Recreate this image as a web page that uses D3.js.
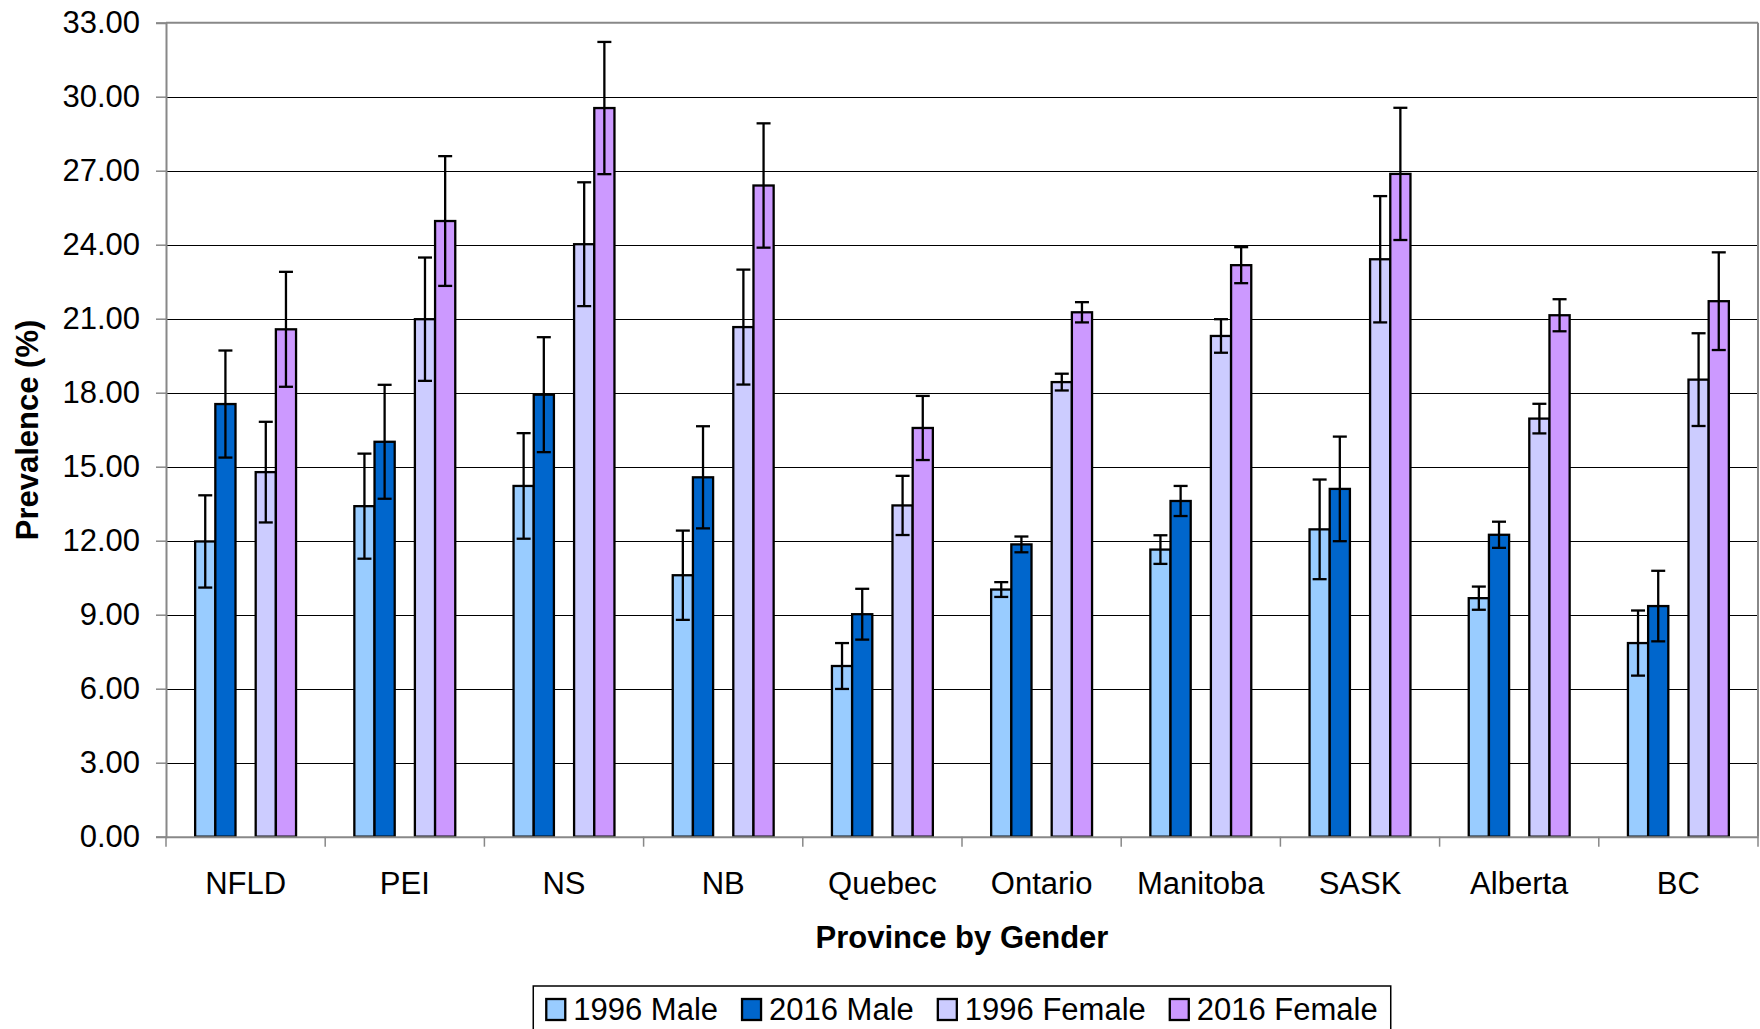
<!DOCTYPE html>
<html>
<head>
<meta charset="utf-8">
<script src="https://cdn.jsdelivr.net/npm/d3@7"></script>
<style>
  body { margin: 0; background: #fff; }
  text { font-family: "Liberation Sans", Arial, sans-serif; fill: #000; }
</style>
</head>
<body>
<svg id="chart" width="1760" height="1029"></svg>
<script>
// Categories and series
const provinces = ["NFLD", "PEI", "NS", "NB", "Quebec", "Ontario", "Manitoba", "SASK", "Alberta", "BC"];
const seriesNames = ["1996 Male", "2016 Male", "1996 Female", "2016 Female"];
const seriesColors = ["#99CCFF", "#0066CC", "#CCCCFF", "#CC99FF"];

const male1996 = [11.97, 13.40, 14.22, 10.60, 6.92, 10.02, 11.64, 12.46, 9.67, 7.85];
const male1996Err = [1.87, 2.13, 2.14, 1.81, 0.93, 0.30, 0.58, 2.02, 0.47, 1.32];
const male2016 = [17.54, 16.01, 17.92, 14.57, 9.02, 11.85, 13.61, 14.10, 12.24, 9.35];
const male2016Err = [2.17, 2.31, 2.33, 2.07, 1.03, 0.32, 0.61, 2.12, 0.53, 1.43];
const female1996 = [14.78, 20.98, 24.02, 20.66, 13.43, 18.43, 20.30, 23.41, 16.95, 18.53];
const female1996Err = [2.04, 2.50, 2.51, 2.33, 1.20, 0.34, 0.68, 2.56, 0.60, 1.88];
const female2016 = [20.57, 24.96, 29.54, 26.40, 16.57, 21.26, 23.17, 26.87, 21.14, 21.71];
const female2016Err = [2.33, 2.63, 2.68, 2.52, 1.30, 0.41, 0.73, 2.68, 0.65, 1.98];

const yTicks = [0, 3, 6, 9, 12, 15, 18, 21, 24, 27, 30, 33];

// Build rows for drawing
const values = [male1996, male2016, female1996, female2016];
const errors = [male1996Err, male2016Err, female1996Err, female2016Err];
const rows = [];
provinces.forEach((p, i) => {
    seriesNames.forEach((s, j) => {
        rows.push({province: p, series: s, value: values[j][i], err: errors[j][i], color: seriesColors[j]});
    });
});

// Plot area
const plotLeft = 166, plotRight = 1758, plotTop = 22.7, plotBottom = 836.7;
const svg = d3.select("#chart");

const x0 = d3.scaleBand().domain(provinces).range([plotLeft, plotRight]).padding(0);
// five slots per province, the middle one stays empty
const slots = ["1996 Male", "2016 Male", "gap", "1996 Female", "2016 Female"];
const x1 = d3.scaleBand().domain(slots).range([0, x0.bandwidth()]).paddingInner(0).paddingOuter(1.444);
const y = d3.scaleLinear().domain([0, 33]).range([plotBottom, plotTop]);

// Gridlines
svg.append("g")
    .selectAll("line")
    .data(yTicks.filter(d => d > 0 && d < 33))
    .enter().append("line")
    .attr("x1", plotLeft).attr("x2", plotRight)
    .attr("y1", d => Math.round(y(d)) + 0.5).attr("y2", d => Math.round(y(d)) + 0.5)
    .attr("stroke", "#000").attr("stroke-width", 1.2);

// plot border top / right
svg.append("line").attr("x1", plotLeft).attr("x2", plotRight).attr("y1", y(33)).attr("y2", y(33))
    .attr("stroke", "#888").attr("stroke-width", 2);
svg.append("line").attr("x1", plotRight).attr("x2", plotRight).attr("y1", plotTop).attr("y2", plotBottom)
    .attr("stroke", "#888").attr("stroke-width", 2);

// Y axis
const yAxis = svg.append("g")
    .attr("transform", "translate(" + plotLeft + ",0)")
    .call(d3.axisLeft(y).tickValues(yTicks).tickFormat(d3.format(".2f")).tickSizeOuter(0).tickSize(10).tickPadding(16));
yAxis.select(".domain").attr("stroke", "#888").attr("stroke-width", 2);
yAxis.selectAll(".tick line").attr("stroke", "#888").attr("stroke-width", 1.5);
yAxis.selectAll(".tick text").attr("font-size", 31).attr("fill", "#000")
    .style("font-family", "'Liberation Sans', Arial, sans-serif");

// Bars
const groups = svg.append("g").selectAll("g")
    .data(provinces)
    .enter().append("g")
    .attr("transform", d => "translate(" + x0(d) + ",0)");

groups.selectAll("rect")
    .data(p => rows.filter(r => r.province === p))
    .enter().append("rect")
    .attr("x", d => x1(d.series))
    .attr("y", d => y(d.value))
    .attr("width", x1.bandwidth())
    .attr("height", d => y(0) - y(d.value))
    .attr("fill", d => d.color)
    .attr("stroke", "#000")
    .attr("stroke-width", 2.3);

// Error bars
const capHalf = 7;
const eb = groups.selectAll("g.err")
    .data(p => rows.filter(r => r.province === p))
    .enter().append("g").attr("class", "err")
    .attr("stroke", "#000").attr("stroke-width", 2.3);
eb.append("line")
    .attr("x1", d => x1(d.series) + x1.bandwidth() / 2)
    .attr("x2", d => x1(d.series) + x1.bandwidth() / 2)
    .attr("y1", d => y(d.value + d.err))
    .attr("y2", d => y(d.value - d.err));
eb.append("line")
    .attr("x1", d => x1(d.series) + x1.bandwidth() / 2 - capHalf)
    .attr("x2", d => x1(d.series) + x1.bandwidth() / 2 + capHalf)
    .attr("y1", d => y(d.value + d.err))
    .attr("y2", d => y(d.value + d.err));
eb.append("line")
    .attr("x1", d => x1(d.series) + x1.bandwidth() / 2 - capHalf)
    .attr("x2", d => x1(d.series) + x1.bandwidth() / 2 + capHalf)
    .attr("y1", d => y(d.value - d.err))
    .attr("y2", d => y(d.value - d.err));

// X axis
const xAxis = svg.append("g")
    .attr("transform", "translate(0," + plotBottom + ")")
    .call(d3.axisBottom(x0).tickSize(0).tickPadding(35));
xAxis.select(".domain").attr("stroke", "#888").attr("stroke-width", 2);
xAxis.selectAll(".tick text").attr("font-size", 31).attr("fill", "#000")
    .style("font-family", "'Liberation Sans', Arial, sans-serif");
// tick marks between categories
svg.append("g").selectAll("line")
    .data(provinces.concat(["end"]))
    .enter().append("line")
    .attr("x1", (d, i) => i < provinces.length ? x0(d) : plotRight)
    .attr("x2", (d, i) => i < provinces.length ? x0(d) : plotRight)
    .attr("y1", plotBottom).attr("y2", plotBottom + 10)
    .attr("stroke", "#888").attr("stroke-width", 1.5);

// Axis titles
svg.append("text")
    .attr("text-anchor", "middle")
    .attr("x", (plotLeft + plotRight) / 2)
    .attr("y", 948)
    .attr("font-size", 31)
    .attr("font-weight", "bold")
    .text("Province by Gender");

svg.append("text")
    .attr("text-anchor", "middle")
    .attr("transform", "translate(38,430) rotate(-90)")
    .attr("font-size", 31)
    .attr("font-weight", "bold")
    .text("Prevalence (%)");

// Legend
const legend = svg.append("g");
const legendBox = legend.append("rect")
    .attr("fill", "#fff").attr("stroke", "#000").attr("stroke-width", 1.5);
let lx = 0;
seriesNames.forEach((s, i) => {
    const item = legend.append("g").attr("transform", "translate(" + lx + ",0)");
    item.append("rect")
        .attr("x", 0).attr("y", 999).attr("width", 19).attr("height", 21)
        .attr("fill", seriesColors[i]).attr("stroke", "#000").attr("stroke-width", 2.3);
    const t = item.append("text")
        .attr("x", 27).attr("y", 1020)
        .attr("font-size", 31)
        .text(s);
    lx += 27 + t.node().getComputedTextLength() + 24;
});
const legendW = lx - 24 + 26;
const lx0 = (plotLeft + plotRight) / 2 - legendW / 2;
legendBox.attr("x", -13).attr("y", 986).attr("width", legendW).attr("height", 50);
legend.attr("transform", "translate(" + (lx0 + 13) + ",0)");
</script>
</body>
</html>
